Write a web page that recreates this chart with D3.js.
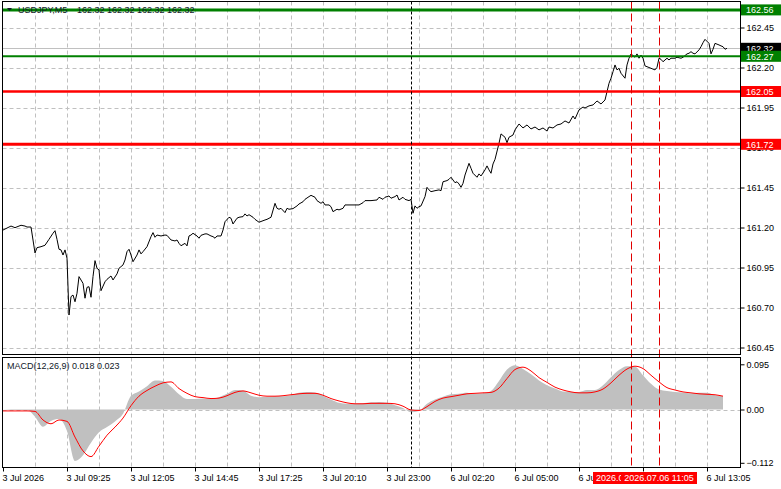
<!DOCTYPE html>
<html>
<head>
<meta charset="utf-8">
<script src="https://cdn.jsdelivr.net/npm/d3@7"></script>
<style>
html, body { margin: 0; padding: 0; background: #fff; }
svg { display: block; font-family: "Liberation Sans", Arial, sans-serif; font-size: 9px; }
</style>
</head>
<body>
<div id="chart"></div>
<script>
// USDJPY M5 closes, [bar index, price]
const closes = [
  [0,161.184],[4,161.209],[6,161.199],[9,161.214],[11,161.209],[12,161.203],[14,161.203],[16,161.041],
  [17,161.074],[19,161.080],[21,161.089],[23,161.126],[25,161.164],[26,161.180],[27,161.126],[28,161.064],
  [29,161.060],[30,161.028],[31,161.060],[32,161.008],[33,160.653],[34,160.768],[35,160.778],[36,160.736],
  [37,160.789],[38,160.893],[40,160.851],[41,160.758],[42,160.826],[43,160.830],[44,160.764],[45,160.893],
  [46,160.993],[47,160.945],[48,160.935],[49,160.805],[51,160.861],[52,160.876],[54,160.897],[55,160.872],
  [57,160.910],[58,160.945],[60,160.966],[61,160.997],[62,161.049],[63,161.064],[64,161.028],[65,160.986],
  [67,161.028],[68,161.060],[69,161.035],[70,161.049],[72,161.080],[74,161.143],[75,161.168],[76,161.139],
  [77,161.153],[79,161.147],[81,161.153],[82,161.151],[84,161.122],[86,161.116],[87,161.122],[88,161.101],
  [89,161.086],[91,161.101],[92,161.085],[93,161.147],[94,161.153],[95,161.164],[97,161.147],[98,161.133],
  [99,161.151],[101,161.160],[102,161.160],[104,161.147],[105,161.143],[106,161.133],[107,161.147],[109,161.147],
  [110,161.184],[111,161.236],[113,161.264],[114,161.258],[115,161.222],[117,161.258],[118,161.264],[120,161.268],
  [121,161.285],[122,161.272],[123,161.280],[125,161.264],[126,161.251],[128,161.233],[131,161.247],[132,161.251],
  [134,161.264],[136,161.351],[137,161.320],[138,161.314],[139,161.320],[141,161.293],[142,161.320],[143,161.314],
  [145,161.318],[147,161.335],[148,161.347],[150,161.361],[151,161.376],[153,161.393],[154,161.401],[156,161.389],
  [157,161.368],[159,161.351],[160,161.361],[161,161.341],[163,161.341],[164,161.330],[165,161.299],[167,161.314],
  [168,161.310],[170,161.320],[171,161.341],[174,161.341],[176,161.341],[178,161.341],[180,161.355],[181,161.368],
  [184,161.368],[187,161.372],[188,161.389],[190,161.376],[191,161.389],[193,161.397],[194,161.383],[196,161.393],
  [197,161.403],[198,161.372],[200,161.389],[201,161.376],[203,161.368],[204,161.376],[205,161.289],[206,161.335],
  [207,161.320],[208,161.330],[209,161.335],[211,161.393],[212,161.451],[213,161.435],[214,161.424],[216,161.430],
  [218,161.435],[219,161.430],[220,161.486],[222,161.493],[223,161.501],[224,161.514],[226,161.480],[227,161.486],
  [228,161.472],[229,161.451],[230,161.476],[231,161.528],[233,161.601],[234,161.570],[235,161.539],[237,161.514],
  [238,161.535],[239,161.522],[241,161.560],[242,161.585],[243,161.560],[244,161.539],[245,161.597],[246,161.626],
  [248,161.726],[249,161.785],[251,161.764],[252,161.730],[253,161.764],[255,161.778],[256,161.810],[258,161.847],
  [259,161.835],[260,161.822],[262,161.841],[264,161.816],[266,161.828],[268,161.810],[270,161.822],[272,161.803],
  [273,161.828],[275,161.822],[277,161.841],[279,161.847],[281,161.866],[283,161.853],[285,161.897],[286,161.878],
  [288,161.935],[290,161.953],[291,161.947],[293,161.960],[295,161.966],[297,161.991],[299,161.972],[301,161.997],
  [302,162.049],[303,162.101],[304,162.133],[305,162.174],[306,162.216],[307,162.185],[308,162.195],[309,162.164],
  [311,162.133],[312,162.216],[313,162.258],[314,162.285],[316,162.264],[317,162.285],[318,162.258],[319,162.278],
  [320,162.258],[321,162.210],[322,162.205],[324,162.195],[326,162.185],[327,162.201],[328,162.258],[329,162.251],
  [330,162.236],[332,162.258],[333,162.247],[334,162.258],[336,162.258],[337,162.264],[339,162.258],[340,162.264],
  [342,162.285],[343,162.289],[344,162.299],[345,162.289],[346,162.285],[348,162.310],[349,162.330],[350,162.355],
  [351,162.376],[353,162.351],[354,162.285],[355,162.314],[356,162.351],[358,162.341],[359,162.335],[360,162.330],
  [361,162.314],[362,162.320]
];

// MACD(12,26,9), one value every 4 bars
const macdStep = 4;
const macdMain = [
  0.000,-0.001,-0.001,-0.001,-0.015,-0.036,-0.024,-0.020,-0.045,-0.108,
  -0.096,-0.070,-0.048,-0.037,-0.025,-0.009,0.029,0.038,0.049,0.061,
  0.060,0.048,0.032,0.022,0.022,0.023,0.022,0.026,0.033,0.041,
  0.040,0.029,0.026,0.027,0.028,0.028,0.030,0.035,0.037,0.036,
  0.029,0.021,0.014,0.012,0.012,0.013,0.015,0.016,0.014,0.009,
  0.003,-0.006,-0.003,0.012,0.021,0.027,0.032,0.033,0.035,0.033,
  0.034,0.039,0.060,0.084,0.093,0.085,0.074,0.061,0.051,0.044,
  0.038,0.037,0.037,0.041,0.041,0.051,0.068,0.083,0.091,0.090,
  0.072,0.054,0.042,0.039,0.037,0.036,0.034,0.035,0.035,0.030,
  0.028
];
const macdSignal = [
  -0.003,-0.003,-0.003,-0.003,-0.004,-0.022,-0.030,-0.022,-0.025,-0.058,
  -0.087,-0.099,-0.077,-0.054,-0.037,-0.018,0.008,0.028,0.040,0.049,
  0.056,0.058,0.044,0.034,0.027,0.025,0.023,0.024,0.029,0.036,
  0.039,0.035,0.030,0.028,0.028,0.029,0.031,0.033,0.034,0.034,
  0.030,0.023,0.018,0.014,0.012,0.012,0.013,0.013,0.013,0.012,
  0.007,-0.001,-0.002,0.006,0.017,0.024,0.027,0.030,0.033,0.034,
  0.035,0.036,0.045,0.065,0.084,0.089,0.081,0.067,0.057,0.047,
  0.041,0.037,0.035,0.035,0.037,0.043,0.056,0.072,0.085,0.091,
  0.086,0.072,0.058,0.046,0.041,0.037,0.035,0.033,0.032,0.031,
  0.028
];

const timeTickBars = [0, 32, 64, 96, 128, 160, 192, 224, 256, 288, 320, 352];
const timeLabels = ["3 Jul 2026", "3 Jul 09:25", "3 Jul 12:05", "3 Jul 14:45", "3 Jul 17:25", "3 Jul 20:10",
  "3 Jul 23:00", "6 Jul 02:20", "6 Jul 05:00", "6 Jul 07:40", "6 Jul 10:20", "6 Jul 13:05"];
const priceTicks = [162.45, 162.20, 161.95, 161.70, 161.45, 161.20, 160.95, 160.70, 160.45];
const macdTicks = [0.095, 0.00, -0.112];

const resistanceLevels = [162.56, 162.27];
const supportLevels = [162.05, 161.72];
const lastPrice = 162.32;
const daySeparatorBar = 204;
const markerBars = [314, 328];
const markerLabels = ["2026.07.06 09:55", "2026.07.06 11:05"];

const width = 781, height = 489;
const left = 2.5, right = 740.5;
const mainTop = 1.5, mainBottom = 354.5;
const macdTop = 357.5, macdBottom = 467.5;

const svg = d3.select("#chart").append("svg")
  .attr("width", width)
  .attr("height", height);

const x = d3.scaleLinear().domain([0, 352]).range([3, 707]);
const yP = d3.scaleLinear().domain([160.45, 162.45]).range([347.5, 27.5]);
const yM = d3.scaleLinear().domain([-0.112, 0.095]).range([462.8, 364.3]);

const defs = svg.append("defs");
defs.append("clipPath").attr("id", "clipMain").append("rect")
  .attr("x", left).attr("y", mainTop).attr("width", right - left).attr("height", mainBottom - mainTop);
defs.append("clipPath").attr("id", "clipMacd").append("rect")
  .attr("x", left).attr("y", macdTop).attr("width", right - left).attr("height", macdBottom - macdTop);

const gridColor = "#c0c0c0";
const gridBars = d3.range(16, 370, 16).filter(b => x(b) < right - 2);

// main panel grid
const gMain = svg.append("g").attr("clip-path", "url(#clipMain)");
gMain.selectAll("line.vg").data(gridBars).enter().append("line")
  .attr("x1", d => Math.round(x(d)) + 0.5).attr("x2", d => Math.round(x(d)) + 0.5)
  .attr("y1", mainTop).attr("y2", mainBottom)
  .attr("stroke", gridColor).attr("stroke-dasharray", "4,3");
gMain.selectAll("line.hg").data(priceTicks).enter().append("line")
  .attr("x1", left).attr("x2", right)
  .attr("y1", d => Math.round(yP(d)) + 0.5).attr("y2", d => Math.round(yP(d)) + 0.5)
  .attr("stroke", gridColor).attr("stroke-dasharray", "4,3");

// macd panel grid
const gMacd = svg.append("g").attr("clip-path", "url(#clipMacd)");
gMacd.selectAll("line.vg").data(gridBars).enter().append("line")
  .attr("x1", d => Math.round(x(d)) + 0.5).attr("x2", d => Math.round(x(d)) + 0.5)
  .attr("y1", macdTop).attr("y2", macdBottom)
  .attr("stroke", gridColor).attr("stroke-dasharray", "4,3");

// histogram (drawn as a filled profile) + signal
const histData = macdMain.map((v, i) => [i * macdStep, v]);
gMacd.append("path")
  .datum(histData)
  .attr("fill", "#c0c0c0")
  .attr("d", d3.area().curve(d3.curveMonotoneX)
    .x(d => x(d[0])).y0(yM(0)).y1(d => yM(d[1])));
gMacd.append("line")
  .attr("x1", left).attr("x2", right)
  .attr("y1", Math.round(yM(0)) + 0.5).attr("y2", Math.round(yM(0)) + 0.5)
  .attr("stroke", gridColor).attr("stroke-dasharray", "4,3");
gMacd.append("path")
  .datum(macdSignal.map((v, i) => [i * macdStep, v]))
  .attr("fill", "none").attr("stroke", "#ff0000").attr("stroke-width", 1)
  .attr("d", d3.line().curve(d3.curveMonotoneX).x(d => x(d[0])).y(d => yM(d[1])));

svg.append("text").attr("x", 7).attr("y", 369).attr("fill", "#101828")
  .text("MACD(12,26,9) 0.018 0.023");

// title (under the top level line)
const title = svg.append("text").attr("y", 13).attr("fill", "#101828");
svg.append("path")
  .attr("d", "M7,8 L12,8 L9.5,11 Z").attr("fill", "#101828");
title.append("tspan").attr("x", 18).text("USDJPY,M5");
title.append("tspan").attr("x", 77).text("162.32 162.32 162.32 162.32");

// bid line + price
gMain.append("line")
  .attr("x1", left).attr("x2", right)
  .attr("y1", Math.round(yP(lastPrice)) + 0.5).attr("y2", Math.round(yP(lastPrice)) + 0.5)
  .attr("stroke", "#c0c0c0");
gMain.append("path")
  .datum(closes)
  .attr("fill", "none").attr("stroke", "#000").attr("stroke-width", 1)
  .attr("d", d3.line().x(d => x(d[0])).y(d => yP(d[1])));

// separators and markers span both panels
svg.append("line")
  .attr("x1", Math.round(x(daySeparatorBar)) + 0.5).attr("x2", Math.round(x(daySeparatorBar)) + 0.5)
  .attr("y1", mainTop).attr("y2", macdBottom)
  .attr("stroke", "#000").attr("stroke-dasharray", "3,2");
svg.selectAll("line.marker").data(markerBars).enter().append("line")
  .attr("x1", d => Math.round(x(d)) + 0.5).attr("x2", d => Math.round(x(d)) + 0.5)
  .attr("y1", mainTop).attr("y2", macdBottom)
  .attr("stroke", "#e00000").attr("stroke-dasharray", "8,4");

// level lines
const levelColor = { res: "#008000", sup: "#ff0000" };
const levelData = resistanceLevels.map(p => ({ p: p, kind: "res" }))
  .concat(supportLevels.map(p => ({ p: p, kind: "sup" })));
const levelWidth = [3, 2, 2.5, 3];
gMain.selectAll("line.level").data(levelData).enter().append("line")
  .attr("x1", left).attr("x2", right)
  .attr("y1", d => yP(d.p)).attr("y2", d => yP(d.p))
  .attr("stroke", d => levelColor[d.kind])
  .attr("stroke-width", (d, i) => levelWidth[i]);

// frames
svg.append("rect").attr("x", left).attr("y", mainTop)
  .attr("width", right - left).attr("height", mainBottom - mainTop)
  .attr("fill", "none").attr("stroke", "#000");
svg.append("rect").attr("x", left).attr("y", macdTop)
  .attr("width", right - left).attr("height", macdBottom - macdTop)
  .attr("fill", "none").attr("stroke", "#000");

// price axis
const axP = svg.append("g").attr("transform", `translate(${right},0)`)
  .call(d3.axisRight(yP).tickValues(priceTicks).tickSize(4).tickPadding(2).tickFormat(d3.format(".2f")));
axP.select(".domain").remove();
axP.selectAll("text").attr("font-size", 9).attr("font-family", "Liberation Sans, Arial, sans-serif").attr("fill", "#000");

// macd axis
const axM = svg.append("g").attr("transform", `translate(${right},0)`)
  .call(d3.axisRight(yM).tickValues(macdTicks).tickSize(4).tickPadding(2)
    .tickFormat(d => d === 0 ? "0.00" : d3.format(".3f")(d)));
axM.select(".domain").remove();
axM.selectAll("text").attr("font-size", 9).attr("font-family", "Liberation Sans, Arial, sans-serif").attr("fill", "#000");

// time axis
const axT = svg.append("g").attr("transform", `translate(0,${macdBottom})`)
  .call(d3.axisBottom(x).tickValues(timeTickBars).tickSize(4).tickPadding(3)
    .tickFormat((d, i) => timeLabels[i]));
axT.select(".domain").remove();
axT.selectAll("text").attr("text-anchor", "start").attr("dx", -1)
  .attr("font-size", 9).attr("font-family", "Liberation Sans, Arial, sans-serif").attr("fill", "#000");

// price labels on the right
function priceBox(p, fill) {
  const yy = yP(p);
  svg.append("rect").attr("x", 741).attr("y", yy - 5.5).attr("width", 40).attr("height", 11).attr("fill", fill);
  svg.append("text").attr("x", 746).attr("y", yy + 3.3).attr("fill", "#fff").text(d3.format(".2f")(p));
}
priceBox(lastPrice, "#000");
levelData.forEach(d => priceBox(d.p, levelColor[d.kind]));

// marker labels on the time axis
markerBars.forEach((b, i) => {
  const cx = x(b);
  svg.append("rect").attr("x", cx - 38).attr("y", 472).attr("width", 76).attr("height", 12).attr("fill", "#ff0000");
  svg.append("text").attr("x", cx).attr("y", 481).attr("text-anchor", "middle").attr("fill", "#fff").text(markerLabels[i]);
});
</script>
</body>
</html>
